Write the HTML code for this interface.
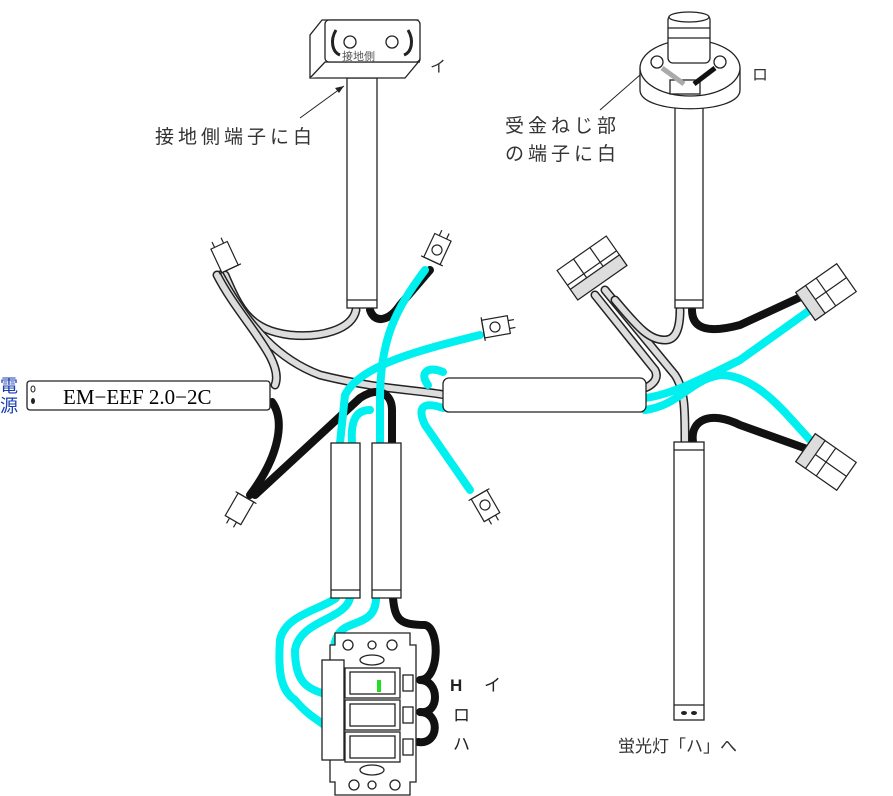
<!DOCTYPE html>
<html><head><meta charset="utf-8"><style>
html,body{margin:0;padding:0;background:#fff;width:893px;height:796px;overflow:hidden}
svg{display:block}
text{font-family:"Liberation Serif","Noto Serif CJK SC",serif}
.j{font-family:"Liberation Sans","Noto Sans CJK JP",sans-serif}
</style></head><body>
<svg width="893" height="796" viewBox="0 0 893 796" xmlns="http://www.w3.org/2000/svg">
<g fill="none" stroke-linecap="round" stroke-linejoin="round">
<g>
<path d="M225,275 C240,310 250,330 290,335 C320,338 352,330 356,310" stroke="#222" stroke-width="9"/>
<path d="M225,275 C240,310 250,330 290,335 C320,338 352,330 356,310" stroke="#ddd" stroke-width="6"/>
<path d="M220,275 C250,330 280,360 320,375 C380,390 420,390 445,395" stroke="#222" stroke-width="9"/>
<path d="M220,275 C250,330 280,360 320,375 C380,390 420,390 445,395" stroke="#ddd" stroke-width="6"/>
<path d="M217,275 C240,320 285,360 275,385" stroke="#222" stroke-width="9"/>
<path d="M217,275 C240,320 285,360 275,385" stroke="#ddd" stroke-width="6"/>
<path d="M595,295 L655,370 C660,380 650,386 645,388" stroke="#222" stroke-width="9"/>
<path d="M595,295 L655,370 C660,380 650,386 645,388" stroke="#ddd" stroke-width="6"/>
<path d="M605,290 L675,375 C685,390 685,410 685,442" stroke="#222" stroke-width="9"/>
<path d="M605,290 L675,375 C685,390 685,410 685,442" stroke="#ddd" stroke-width="6"/>
<path d="M680,310 C680,330 675,340 665,340 C650,340 640,330 615,300" stroke="#222" stroke-width="9"/>
<path d="M680,310 C680,330 675,340 665,340 C650,340 640,330 615,300" stroke="#ddd" stroke-width="6"/>
</g>
<g stroke="#111" stroke-width="8">
<path d="M370,310 C375,325 390,320 400,305 L430,270"/>
<path d="M272,402 C285,420 280,455 250,495"/>
<path d="M255,495 L360,398 C380,385 392,395 392,410 L392,443"/>
<path d="M692,310 C692,330 710,333 740,325 L805,295"/>
<path d="M693,442 C690,420 710,410 740,425 L810,450"/>
<path d="M393,598 C395,620 400,625 425,625 C440,628 440,680 420,680 C440,680 440,715 420,712 C440,712 440,745 418,742"/>
</g>
<g stroke="#00f0f0" stroke-width="8">
<path d="M425,270 C395,310 380,340 380,400 L380,443"/>
<path d="M480,335 C420,350 360,365 345,395 L340,443"/>
<path d="M443,408 C420,400 418,410 425,425 L470,490"/>
<path d="M443,372 C425,365 420,375 428,385"/>
<path d="M352,443 C350,415 360,410 370,410"/>
<path d="M645,398 C670,395 700,380 740,360 L810,310"/>
<path d="M645,410 C680,405 690,380 720,375 C760,375 790,420 815,445"/>
<path d="M336,598 C320,610 285,615 280,640 C278,670 280,690 295,700 C310,718 320,720 330,730"/>
<path d="M350,598 C345,620 300,620 295,650 C295,680 305,690 330,695"/>
<path d="M376,598 C376,625 350,620 340,632 C330,645 335,660 335,665"/>
</g>
</g>
<g fill="#fff" stroke="#222" stroke-width="1.3">
<rect x="347" y="78" width="30" height="230"/>
<rect x="675" y="108" width="28" height="200"/>
<rect x="27" y="381" width="243" height="29" rx="3"/>
<rect x="443" y="378" width="203" height="34" rx="6"/>
<rect x="331" y="443" width="29" height="155"/>
<rect x="372" y="443" width="29" height="155"/>
<rect x="674" y="442" width="30" height="278"/>
<line x1="331" y1="590" x2="360" y2="590"/><line x1="372" y1="590" x2="401" y2="590"/>
<line x1="347" y1="300" x2="377" y2="300"/><line x1="675" y1="300" x2="703" y2="300"/>
<line x1="674" y1="450" x2="704" y2="450"/><line x1="674" y1="705" x2="704" y2="705"/>
</g>
<ellipse cx="684" cy="713" rx="3" ry="2" fill="#222"/><ellipse cx="694" cy="713" rx="3" ry="2" fill="#222"/>
<ellipse cx="33" cy="389" rx="2" ry="3" fill="none" stroke="#222"/><ellipse cx="33" cy="401" rx="2" ry="3" fill="#222"/>
<text x="63" y="404" font-size="21">EM−EEF 2.0−2C</text>
<text class="j" font-size="18" fill="#1a3fb0"><tspan x="0" y="392">電</tspan><tspan x="0" y="412">源</tspan></text>
<g fill="#fff" stroke="#222" stroke-width="1.3">
<path d="M322,20 L418,20 L420,60 L405,78 L310,78 L310,35 Z"/>
<path d="M310,78 L325,62 L420,62"/>
<rect x="325" y="20" width="95" height="42" rx="4"/>
<circle cx="350" cy="42" r="6"/><circle cx="392" cy="42" r="6"/>
<path d="M336,30 C330,40 332,52 340,55" stroke-width="3"/><path d="M408,30 C414,40 412,52 404,55" stroke-width="3"/>
</g>
<text class="j" x="342" y="60" font-size="11" fill="#555">接地側</text>
<text class="j" x="430" y="72" font-size="16" fill="#333">イ</text>
<line x1="300" y1="118" x2="344" y2="86" stroke="#222"/><path d="M344,86 l-9,2 l4,5z" fill="#222"/>
<text class="j" x="155" y="143" font-size="19" letter-spacing="4" fill="#333">接地側端子に白</text>
<g fill="#fff" stroke="#222" stroke-width="1.3">
<path d="M640,68 L640,90 C640,115 740,115 740,90 L740,68"/>
<ellipse cx="690" cy="68" rx="50" ry="28"/>
<rect x="668" y="15" width="42" height="48" rx="5"/>
<ellipse cx="689" cy="17" rx="20" ry="5"/>
<line x1="668" y1="28" x2="710" y2="28"/><line x1="668" y1="38" x2="710" y2="38"/>
<circle cx="657" cy="62" r="6"/><circle cx="720" cy="62" r="6"/>
<rect x="670" y="80" width="30" height="14"/>
<path d="M662,68 L684,84" stroke="#aaa" stroke-width="5"/><path d="M715,68 L694,84" stroke="#111" stroke-width="5"/>
</g>
<text class="j" x="752" y="80" font-size="16" fill="#333">ロ</text>
<line x1="600" y1="110" x2="640" y2="75" stroke="#222"/>
<text class="j" font-size="19" letter-spacing="4" fill="#333"><tspan x="505" y="132">受金ねじ部</tspan><tspan x="505" y="160">の端子に白</tspan></text>
<g fill="#fff" stroke="#222" stroke-width="1.2">
<g transform="translate(225,258) rotate(-25)"><rect x="-9" y="-14" width="18" height="26"/><line x1="-12" y1="12" x2="12" y2="12"/><line x1="-5" y1="-20" x2="-5" y2="-14"/><line x1="5" y1="-20" x2="5" y2="-14"/></g>
<g transform="translate(437,250) rotate(25)"><rect x="-9" y="-14" width="18" height="26"/><circle r="5"/><line x1="-12" y1="12" x2="12" y2="12"/><line x1="-4" y1="-20" x2="-4" y2="-14"/><line x1="4" y1="-20" x2="4" y2="-14"/></g>
<g transform="translate(495,327) rotate(80)"><rect x="-9" y="-14" width="18" height="26"/><circle r="5"/><line x1="-12" y1="12" x2="12" y2="12"/><line x1="-4" y1="-20" x2="-4" y2="-14"/><line x1="4" y1="-20" x2="4" y2="-14"/></g>
<g transform="translate(485,505) rotate(150)"><rect x="-9" y="-14" width="18" height="26"/><circle r="5"/><line x1="-12" y1="12" x2="12" y2="12"/><line x1="-4" y1="-20" x2="-4" y2="-14"/><line x1="4" y1="-20" x2="4" y2="-14"/></g>
<g transform="translate(240,508) rotate(-150)"><rect x="-9" y="-14" width="18" height="26"/><line x1="-12" y1="12" x2="12" y2="12"/><line x1="-4" y1="-20" x2="-4" y2="-14"/><line x1="4" y1="-20" x2="4" y2="-14"/></g>
<g transform="translate(592,268) rotate(-35)"><rect x="-30" y="-18" width="60" height="36"/><line x1="-30" y1="0" x2="30" y2="0"/><line x1="-10" y1="-18" x2="-10" y2="18"/><line x1="10" y1="-18" x2="10" y2="18"/><rect x="-30" y="5" width="60" height="13" fill="#ddd"/></g>
<g transform="translate(826,292) rotate(-35)"><rect x="-25" y="-17" width="50" height="34"/><line x1="-25" y1="0" x2="25" y2="0"/><line x1="0" y1="-17" x2="0" y2="17"/><rect x="-25" y="-17" width="12" height="34" fill="#ddd"/></g>
<g transform="translate(826,462) rotate(35)"><rect x="-25" y="-17" width="50" height="34"/><line x1="-25" y1="0" x2="25" y2="0"/><line x1="0" y1="-17" x2="0" y2="17"/><rect x="-25" y="-17" width="12" height="34" fill="#ddd"/></g>
</g>
<g fill="#fff" stroke="#222" stroke-width="1.3">
<path d="M335,633 L410,633 L410,645 L416,645 L416,782 L410,782 L410,795 L335,795 L335,782 L330,782 L330,645 L335,645 Z"/>
<circle cx="348" cy="645" r="5"/><circle cx="372" cy="645" r="4"/><circle cx="392" cy="645" r="5"/>
<ellipse cx="372" cy="660" rx="12" ry="5"/><ellipse cx="372" cy="770" rx="12" ry="5"/>
<circle cx="354" cy="785" r="5"/><circle cx="372" cy="785" r="4"/><circle cx="395" cy="785" r="5"/>
<rect x="322" y="660" width="22" height="100"/>
<rect x="345" y="668" width="55" height="30"/>
<rect x="345" y="700" width="55" height="30"/>
<rect x="345" y="732" width="55" height="30"/>
<rect x="350" y="672" width="45" height="22"/><rect x="350" y="704" width="45" height="22"/><rect x="350" y="736" width="45" height="22"/>
<rect x="403" y="675" width="10" height="16"/><rect x="403" y="707" width="10" height="16"/><rect x="403" y="739" width="10" height="16"/>
</g>
<rect x="377" y="680" width="4" height="12" fill="#22dd22"/>
<text class="j" font-size="17" fill="#222"><tspan x="450" y="691" font-weight="bold">H</tspan><tspan x="484" y="691">イ</tspan><tspan x="453" y="721">ロ</tspan><tspan x="453" y="750">ハ</tspan></text>
<text class="j" x="618" y="752" font-size="17" fill="#333">蛍光灯「ハ」へ</text>
</svg>
</body></html>
